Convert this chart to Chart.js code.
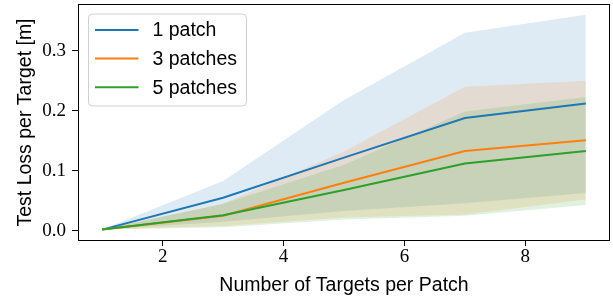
<!DOCTYPE html>
<html>
<head>
<meta charset="utf-8">
<script src="https://cdn.jsdelivr.net/npm/chart.js@4/dist/chart.umd.min.js"></script>
<style>
  html, body { margin: 0; padding: 0; background: #ffffff; }
  #wrap { width: 613px; height: 299px; }
</style>
</head>
<body>
<div id="wrap"><canvas id="c" width="613" height="299"></canvas></div>
<script>
// ---- data ----
const xValues = [1, 3, 5, 7, 9];
const seriesLabels = ['1 patch', '3 patches', '5 patches'];

const mean1 = [0.002, 0.055, 0.122, 0.188, 0.212];
const low1  = [0.002, 0.015, 0.033, 0.046, 0.063];
const high1 = [0.002, 0.083, 0.218, 0.330, 0.360];

const mean3 = [0.002, 0.025, 0.080, 0.133, 0.151];
const low3  = [0.002, 0.008, 0.022, 0.027, 0.052];
const high3 = [0.002, 0.045, 0.132, 0.240, 0.250];

const mean5 = [0.002, 0.026, 0.068, 0.112, 0.133];
const low5  = [0.002, 0.006, 0.019, 0.025, 0.043];
const high5 = [0.002, 0.045, 0.110, 0.199, 0.223];

const xTickValues = [2, 4, 6, 8];
const yTickValues = [0.0, 0.1, 0.2, 0.3];

const xTitle = 'Number of Targets per Patch';
const yTitle = 'Test Loss per Target [m]';

// ---- styling ----
const colors = ['#1f77b4', '#ff7f0e', '#2ca02c'];
const fills  = ['rgba(31,119,180,0.15)', 'rgba(255,127,14,0.15)', 'rgba(44,160,44,0.15)'];
const sansFont = "'Liberation Sans', Arial, sans-serif";
const serifFont = "'Liberation Serif', 'Times New Roman', serif";

const pts = arr => arr.map((v, i) => ({x: xValues[i], y: v}));

const bandLow = (arr, ord) => ({
  data: pts(arr), borderWidth: 0, borderColor: 'rgba(0,0,0,0)', pointRadius: 0,
  fill: false, order: ord, isBand: true
});
const bandHigh = (arr, fillColor, ord) => ({
  data: pts(arr), borderWidth: 0, borderColor: 'rgba(0,0,0,0)', pointRadius: 0,
  fill: '-1', backgroundColor: fillColor, order: ord, isBand: true
});
const meanLine = (arr, label, color, ord) => ({
  label: label, data: pts(arr), borderColor: color, backgroundColor: color,
  borderWidth: 2, pointRadius: 0, fill: false, order: ord, tension: 0
});

const datasets = [
  bandLow(low1, 20), bandHigh(high1, fills[0], 19),
  bandLow(low3, 18), bandHigh(high3, fills[1], 17),
  bandLow(low5, 16), bandHigh(high5, fills[2], 15),
  meanLine(mean1, seriesLabels[0], colors[0], 3),
  meanLine(mean3, seriesLabels[1], colors[1], 2),
  meanLine(mean5, seriesLabels[2], colors[2], 1)
];

const zeroPad = s => { s.paddingTop = 0; s.paddingBottom = 0; s.paddingLeft = 0; s.paddingRight = 0; };

const framePlugin = {
  id: 'frameAndLegend',
  afterDatasetsDraw(chart) {
    const {ctx, chartArea: a} = chart;
    ctx.save();
    // axes frame (all four spines)
    ctx.strokeStyle = '#000';
    ctx.lineWidth = 1;
    ctx.strokeRect(Math.round(a.left) + 0.5, Math.round(a.top) + 0.5,
                   Math.round(a.right - a.left) - 1, Math.round(a.bottom - a.top) - 1);

    // legend box in upper-left
    const bx = a.left + 10.5, by = a.top + 10, bw = 158, bh = 92, r = 4;
    ctx.beginPath();
    ctx.moveTo(bx + r, by);
    ctx.lineTo(bx + bw - r, by);
    ctx.quadraticCurveTo(bx + bw, by, bx + bw, by + r);
    ctx.lineTo(bx + bw, by + bh - r);
    ctx.quadraticCurveTo(bx + bw, by + bh, bx + bw - r, by + bh);
    ctx.lineTo(bx + r, by + bh);
    ctx.quadraticCurveTo(bx, by + bh, bx, by + bh - r);
    ctx.lineTo(bx, by + r);
    ctx.quadraticCurveTo(bx, by, bx + r, by);
    ctx.closePath();
    ctx.fillStyle = 'rgba(255,255,255,0.8)';
    ctx.fill();
    ctx.strokeStyle = '#d0d0d0';
    ctx.lineWidth = 1;
    ctx.stroke();

    const lineDatasets = chart.data.datasets.filter(d => !d.isBand);
    ctx.font = '19.5px ' + sansFont;
    ctx.textBaseline = 'middle';
    ctx.textAlign = 'left';
    lineDatasets.forEach((d, i) => {
      const y = by + 16 + i * 28.6;
      ctx.strokeStyle = d.borderColor;
      ctx.lineWidth = 2;
      ctx.beginPath();
      ctx.moveTo(bx + 6.5, y);
      ctx.lineTo(bx + 50, y);
      ctx.stroke();
      ctx.fillStyle = '#000';
      ctx.fillText(d.label, bx + 64, y + 1);
    });
    ctx.restore();
  }
};

new Chart(document.getElementById('c'), {
  type: 'line',
  data: { datasets: datasets },
  options: {
    responsive: false,
    animation: false,
    devicePixelRatio: 1,
    layout: { padding: { top: 4, right: 3, bottom: 0, left: 0 } },
    plugins: {
      legend: { display: false },
      tooltip: { enabled: false },
      filler: { drawTime: 'beforeDatasetDraw' }
    },
    scales: {
      x: {
        type: 'linear',
        min: 0.6, max: 9.4,
        afterBuildTicks: s => { s.ticks = xTickValues.map(v => ({value: v})); },
        afterFit: s => { s.height = 58; zeroPad(s); },
        border: { display: false },
        grid: { display: true, drawOnChartArea: false, drawTicks: true, tickLength: 5, color: '#000', tickWidth: 1 },
        ticks: { color: '#000', font: { family: serifFont, size: 19 }, padding: 0, maxRotation: 0,
                 callback: v => String(v) },
        title: { display: true, text: xTitle, color: '#000',
                 font: { family: sansFont, size: 19.5 }, padding: { top: 0, bottom: 2 } }
      },
      y: {
        type: 'linear',
        min: -0.017, max: 0.378,
        afterBuildTicks: s => { s.ticks = yTickValues.map(v => ({value: v})); },
        afterFit: s => { s.width = 78; zeroPad(s); },
        border: { display: false },
        grid: { display: true, drawOnChartArea: false, drawTicks: true, tickLength: 6, color: '#000', tickWidth: 1 },
        ticks: { color: '#000', font: { family: serifFont, size: 19 }, padding: 6,
                 callback: v => Number(v).toFixed(1) },
        title: { display: true, text: yTitle, color: '#000',
                 font: { family: sansFont, size: 19.5 }, padding: { top: 14, bottom: 0 } }
      }
    }
  },
  plugins: [framePlugin]
});
</script>
</body>
</html>
